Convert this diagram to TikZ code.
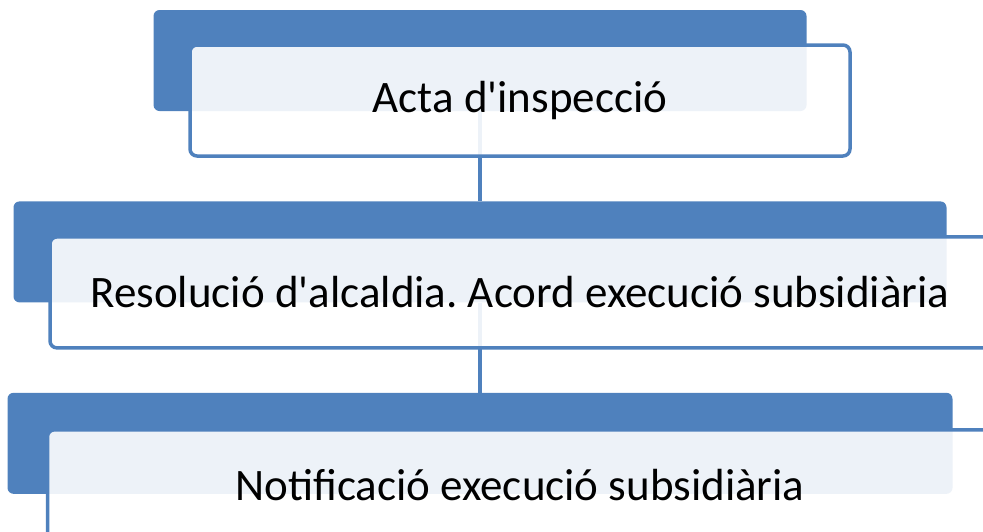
\documentclass[tikz,border=0pt]{standalone}
\usepackage{fontspec}
\setmainfont{Carlito}
\usetikzlibrary{positioning}

\definecolor{accent}{HTML}{4F81BD}
\frenchspacing

\begin{document}
\begin{tikzpicture}[x=1pt, y=1pt, node distance=90pt,
			back/.style={fill=accent, rounded corners=6pt, minimum height=101pt, inner sep=0pt},
			front/.style={draw=accent, line width=3.5pt, fill=white, fill opacity=0.9, text opacity=1,
				rounded corners=7pt, minimum height=111pt, inner sep=0pt, font=\fontsize{45}{54}\selectfont},
			link/.style={draw=accent, line width=4pt}]
			\useasboundingbox (0,0) rectangle (983,-531);
			\node[back, minimum width=653pt] (acta) at (480,-60.5) {};
			\node[back, minimum width=933pt, below=of acta] (resol) {};
			\node[back, minimum width=945pt, below=of resol] (notif) {};
			\draw[link] (acta) -- (resol);
			\draw[link] (resol) -- (notif);
			\node[front, minimum width=660pt] (actatext) at ([shift={(40,-40)}]acta.center) {Acta d\textquotesingle inspecció};
			\node[front, minimum width=940pt] (resoltext) at ([shift={(40,-40.5)}]resol.center) {Resolució d\textquotesingle alcaldia. Acord execució subsidiària};
			\node[front, minimum width=945pt] (notiftext) at ([shift={(40,-42)}]notif.center) {Notificació execució subsidiària};
		\end{tikzpicture}
\end{document}
